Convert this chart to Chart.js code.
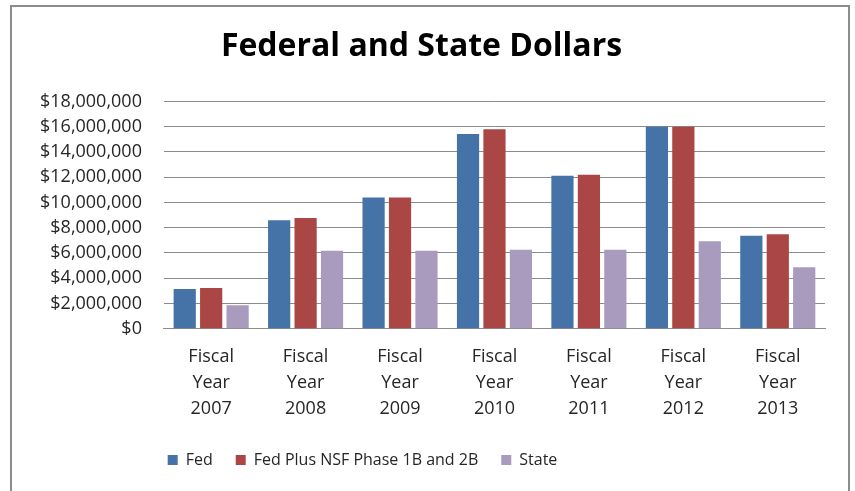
<!DOCTYPE html>
<html>
<head>
<meta charset="utf-8">
<script src="https://cdn.jsdelivr.net/npm/chart.js@4"></script>
<style>
  body { margin: 0; background: #fff; }
  #wrap { position: relative; width: 855px; height: 491px; }
  #frame {
    position: absolute; left: 10px; top: 5px; width: 836px; height: 500px;
    border: 2px solid #8c8c8c; border-bottom: none; pointer-events: none;
  }
</style>
</head>
<body>
<div id="wrap">
  <canvas id="grafico" width="855" height="491"></canvas>
  <div id="frame"></div>
</div>
<script>
const categorias = [
  ['Fiscal', 'Year', '2007'],
  ['Fiscal', 'Year', '2008'],
  ['Fiscal', 'Year', '2009'],
  ['Fiscal', 'Year', '2010'],
  ['Fiscal', 'Year', '2011'],
  ['Fiscal', 'Year', '2012'],
  ['Fiscal', 'Year', '2013']
];
const fed = [3140000, 8580000, 10390000, 15410000, 12110000, 16000000, 7360000];
const fedNsf = [3220000, 8760000, 10390000, 15800000, 12190000, 16000000, 7470000];
const state = [1860000, 6170000, 6170000, 6250000, 6250000, 6930000, 4860000];
const yMax = 18000000;
const yStep = 2000000;

// shifts the legend a bit left like the original
const moverLegenda = {
  id: 'moverLegenda',
  afterLayout(chart) {
    chart.legend.left -= 59;
    chart.legend.right -= 59;
  }
};

const ctx = document.getElementById('grafico').getContext('2d');
new Chart(ctx, {
  type: 'bar',
  data: {
    labels: categorias,
    datasets: [
      { label: 'Fed', data: fed, backgroundColor: '#4572A7' },
      { label: 'Fed Plus NSF Phase 1B and 2B', data: fedNsf, backgroundColor: '#AA4643' },
      { label: 'State', data: state, backgroundColor: '#A99BBD' }
    ]
  },
  options: {
    responsive: false,
    animation: false,
    categoryPercentage: 0.84,
    barPercentage: 0.84,
    layout: { padding: { left: 18, right: 30, top: 28, bottom: 13 } },
    plugins: {
      title: {
        display: true,
        text: 'Federal and State Dollars',
        color: '#000',
        font: { family: 'Open Sans', size: 32, weight: 'bold' },
        padding: { top: 0, bottom: 35 }
      },
      legend: {
        position: 'bottom',
        labels: {
          color: '#262626',
          boxWidth: 10,
          boxHeight: 10,
          padding: 23,
          font: { family: 'Open Sans', size: 16 }
        }
      },
      tooltip: { enabled: false }
    },
    scales: {
      y: {
        min: 0,
        max: yMax,
        border: { display: false },
        grid: { color: '#8c8c8c', lineWidth: 1, drawTicks: false },
        ticks: {
          stepSize: yStep,
          padding: 22,
          color: '#262626',
          font: { family: 'Open Sans', size: 18 },
          callback: v => '$' + v.toLocaleString('en-US')
        }
      },
      x: {
        grid: { display: false },
        border: { display: true, color: '#8c8c8c' },
        ticks: {
          padding: 7,
          color: '#262626',
          font: { family: 'Open Sans', size: 18, lineHeight: 1.45 }
        }
      }
    }
  },
  plugins: [moverLegenda]
});
</script>
</body>
</html>
